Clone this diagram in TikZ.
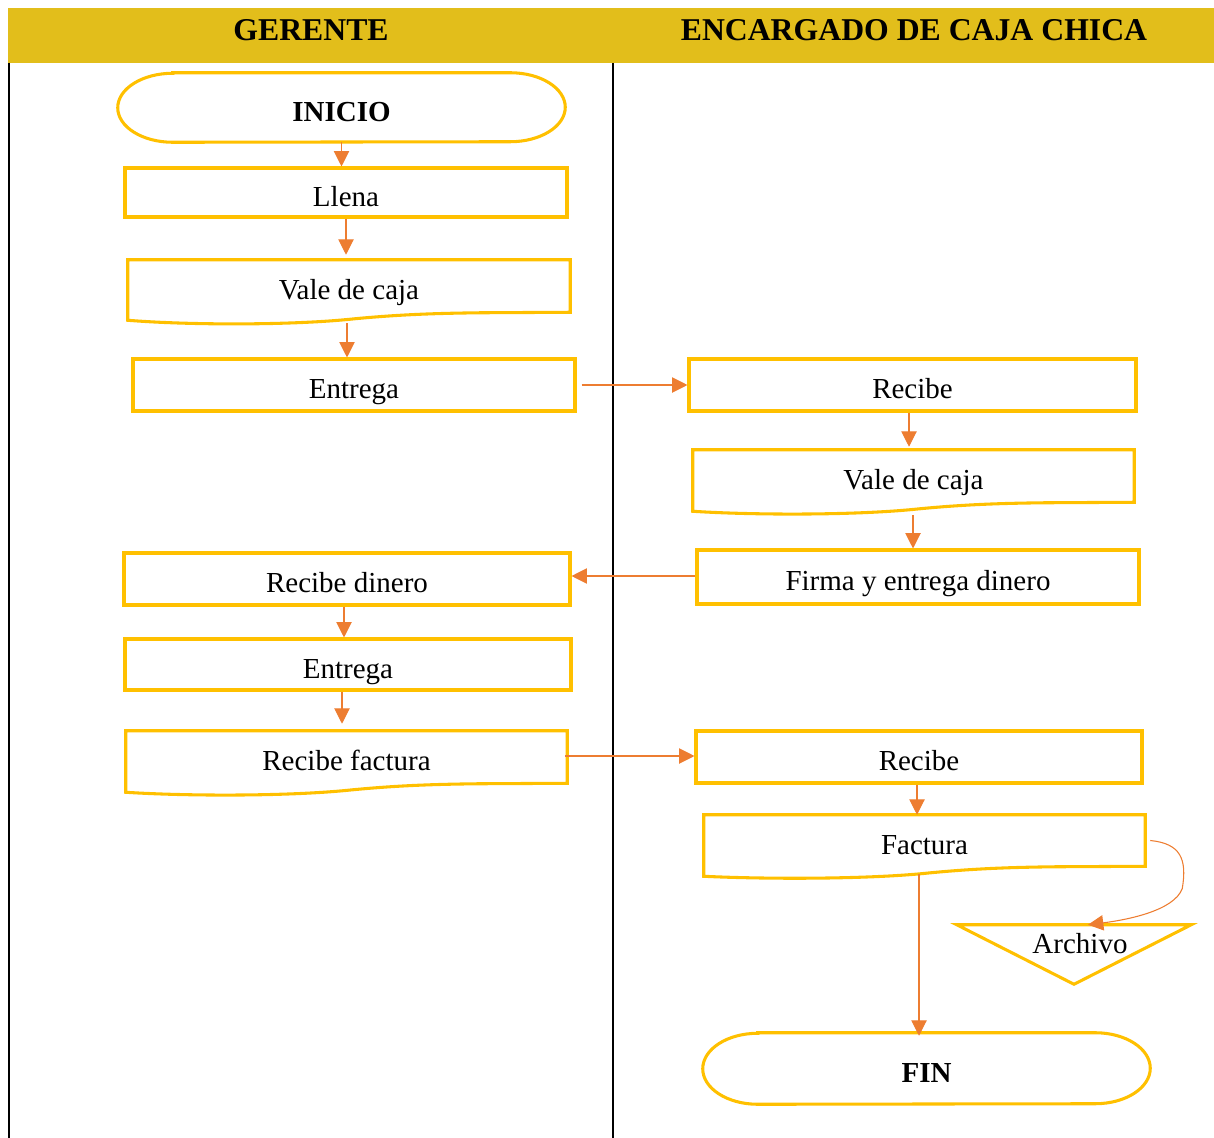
\documentclass[tikz,border=0pt]{standalone}
\usepackage{fontspec}
\setmainfont{Liberation Serif}
\usetikzlibrary{calc,arrows.meta}
\definecolor{hdr}{HTML}{E2BE1B}
\definecolor{yel}{HTML}{FFC000}
\definecolor{org}{HTML}{ED7D31}
\begin{document}
\begin{tikzpicture}[x=0.75pt,y=-0.75pt,
  txt/.style={font=\fontsize{21.75pt}{26pt}\selectfont, inner sep=0pt, text height=24pt, text depth=3.5pt},
  htxt/.style={font=\fontsize{23.8pt}{28pt}\selectfont\bfseries, inner sep=0pt, text height=25pt, text depth=3pt},
  shapebox/.style 2 args={txt, minimum width=#1*0.75pt, minimum height=#2*0.75pt},
  rbox/.style 2 args={shapebox={#1}{#2}, draw=yel, line width=2.3pt},
  outl/.style={draw=yel, line width=2.3pt, line join=miter},
  arr/.style={draw=org, line width=0.8pt, -{Triangle[length=11.5pt,width=11.5pt]}},
  lane/.style={draw=black, line width=1.5pt}
]
\useasboundingbox (0,0) rectangle (1214,1138);
% header
\fill[hdr] (8,8) rectangle (1214,63);
\node[htxt] (hA) at (311,26) {GERENTE};
\node[htxt] (hB) at (914,26) {ENCARGADO DE CAJA CHICA};
\draw[lane] (9,63) -- (9,1138);
\draw[lane] (613,63) -- (613,1138);

% left lane
\node[shapebox={447}{69}, font=\fontsize{21.75pt}{26pt}\selectfont\bfseries] (ini) at (341.5,107.5) {INICIO};
\node[rbox={442}{49}] (llena) at (346,192.5) {Llena};
\node[shapebox={442}{52}] (vale1) at (349,286) {Vale de caja};
\node[rbox={442}{52}] (ent1) at (354,385) {Entrega};
\node[rbox={446}{52}] (recd) at (347,579) {Recibe dinero};
\node[rbox={446}{51}] (ent2) at (348,664.5) {Entrega};
\node[shapebox={441}{52}] (recf) at (346.5,757) {Recibe factura};

% right lane
\node[rbox={447}{52}] (rec1) at (912.5,385) {Recibe};
\node[shapebox={441}{52}] (vale2) at (913.5,476) {Vale de caja};
\node[rbox={442}{54}] (firma) at (918,577) {Firma y entrega dinero};
\node[rbox={446}{52}] (rec2) at (919,757) {Recibe};
\node[shapebox={441}{51}] (fact) at (924.5,840.5) {Factura};
\node[shapebox={234}{59}] (arch) at (1074,954.5) {};
\node[txt] (archt) at (1080,940) {Archivo};
\node[shapebox={447}{71}, font=\fontsize{21.75pt}{26pt}\selectfont\bfseries] (fin) at (926.5,1068.5) {FIN};

% document outlines
\foreach \n/\d in {vale1/8, vale2/9, recf/9, fact/10} {
  \draw[outl] (\n.north west) -- (\n.north east) -- (\n.south east)
    -- ($(\n.south east)+(-90,0.5)$)
    .. controls ($(\n.south east)+(-130,1)$) and ($(\n.south west)+(272,2)$) .. ($(\n.south west)+(222,7)$)
    .. controls ($(\n.south west)+(162,13)$) and ($(\n.south west)+(62,13)$) .. ($(\n.south west)+(0,\d)$)
    -- cycle;
}
% terminators
\foreach \n/\h in {ini/25.875pt, fin/26.625pt} {
  \draw[outl] ($(\n.north west)+(55,0)$) -- ($(\n.north east)+(-55,0)$)
    arc[start angle=90, end angle=-90, x radius=41.25pt, y radius=\h]
    -- ($(\n.south west)+(55,0)$)
    arc[start angle=270, end angle=90, x radius=41.25pt, y radius=\h] -- cycle;
}
% archive triangle
\draw[outl] (arch.north west) -- (arch.north east) -- (arch.south) -- cycle;

% connectors
\draw[arr] (ini.south) -- (ini.south |- llena.north);
\draw[arr] (llena.south) -- ($(llena.south |- vale1.north)+(0,-5)$);
\draw[arr] ($(vale1.south)+(-2,11)$) coordinate (v1s) -- (v1s |- ent1.north);
\draw[arr] ($(ent1.east)+(5,0)$) -- (rec1.west);
\draw[arr] ($(rec1.south)+(-3.5,0)$) coordinate (r1s) -- ($(r1s |- vale2.north)+(0,-3)$);
\draw[arr] ($(vale2.south)+(-0.5,13)$) coordinate (v2s) -- (v2s |- firma.north);
\draw[arr] ($(firma.west)+(0,-1)$) coordinate (fw) -- (fw -| recd.east);
\draw[arr] ($(recd.south)+(-3,0)$) coordinate (rds) -- (rds |- ent2.north);
\draw[arr] ($(ent2.south)+(-6,0)$) coordinate (e2s) -- ($(e2s |- recf.north)+(0,-7)$);
\draw[arr] ($(recf.east)+(-2,-1)$) coordinate (rfe) -- (rfe -| rec2.west);
\draw[arr] ($(rec2.south)+(-2,0)$) coordinate (r2s) -- (r2s |- fact.north);
\draw[arr] ($(fact.south)+(-5.5,7.5)$) coordinate (fs) -- ($(fs |- fin.north)+(0,3)$);
\draw[arr] ($(fact.east)+(5,0)$) .. controls +(30,3) and +(5,-30) .. ++(32,48)
   .. controls +(-8,22) and +(40,-5) .. ($(arch.north)+(14,0)$);
\end{tikzpicture}
\end{document}
